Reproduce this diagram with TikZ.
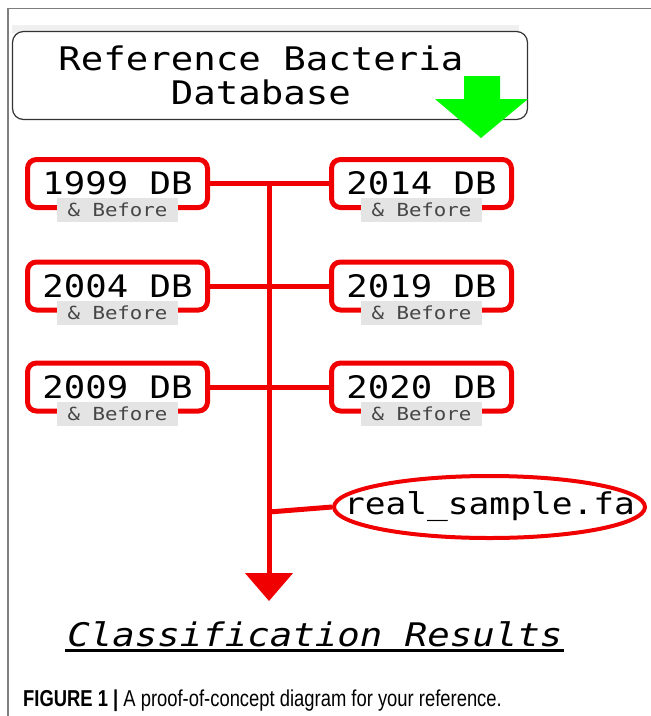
\documentclass[tikz,border=0pt]{standalone}
\usepackage{fontspec}
\newfontfamily\widemono{DejaVu Sans Mono}[FakeStretch=1.15]
\newfontfamily\capfont{Liberation Sans}[FakeStretch=0.80]
\usetikzlibrary{arrows.meta,shapes.geometric}
\definecolor{dbred}{RGB}{240,0,0}
\definecolor{tagbg}{RGB}{228,228,228}
\definecolor{tagtext}{RGB}{70,70,70}
\definecolor{framegray}{RGB}{125,125,125}
\definecolor{newgreen}{RGB}{0,250,0}

\tikzset{
  yearbox/.style={draw=dbred, line width=5pt, rounded corners=9pt,
    minimum width=180pt, minimum height=48pt, inner sep=0pt,
    font=\widemono\fontsize{31}{31}\selectfont},
  beforetag/.style={fill=tagbg, text=tagtext, inner sep=0pt,
    minimum width=121pt, minimum height=24pt,
    font=\widemono\fontsize{18}{18}\selectfont},
  feed/.style={dbred, line width=5pt},
}

\begin{document}
\begin{tikzpicture}[x=1pt, y=-1pt]
        \useasboundingbox (0,0) rectangle (651,716);
        % frame
        \draw[framegray, line width=1.2pt] (8,716) -- (8,8.5) -- (651,8.5);

        % database header
        \fill[black!6] (12,25) rectangle (519,33);
        \node[draw=black!80, line width=1.2pt, rounded corners=11pt, fill=white,
              minimum width=515pt, minimum height=88pt] (dbbox) at (270,75.5) {};
        \node[font=\widemono\fontsize{32.5}{34}\selectfont, align=center] (dbtitle) at (261,75)
              {Reference Bacteria\\Database};
        \fill[newgreen] (464,76) -- (500,76) -- (500,99) -- (528,99) -- (481,138)
              -- (435,99) -- (464,99) -- cycle;

        % yearly databases
        \node[yearbox] (b1999) at (117.5,183.5) {1999 DB};
        \node[yearbox] (b2004) at (117.5,286) {2004 DB};
        \node[yearbox] (b2009) at (117.5,387) {2009 DB};
        \node[yearbox] (b2014) at (421.5,183.5) {2014 DB};
        \node[yearbox] (b2019) at (421.5,286) {2019 DB};
        \node[yearbox] (b2020) at (421.5,387) {2020 DB};
        \foreach \yr in {1999,2004,2009,2014,2019,2020}
          \node[beforetag] (t\yr) at (b\yr.south) {\& Before};

        % query sample
        \node[ellipse, draw=dbred, line width=4pt, minimum width=311pt, minimum height=62pt,
              inner sep=0pt, font=\widemono\fontsize{30}{30}\selectfont] (sample) at (489.5,507)
              {\makebox[0pt]{real\_sample.fa}};

        % connectors
        \draw[feed] (b1999.east) -- (b2014.west);
        \draw[feed] (b2004.east) -- (b2019.west);
        \draw[feed] (b2009.east) -- (b2020.west);
        \coordinate (top) at (269,183.5);
        \coordinate (join) at (269,512);
        \node (results) at (315,634) [font=\widemono\itshape\fontsize{32.5}{32.5}\selectfont]
              {Classification Results};
        \coordinate (tip) at (269,601);
        \draw[feed, -{Triangle[width=47pt, length=28pt]}] (top) -- (tip);
        \draw[feed] (join) -- (sample.west);
        \draw[line width=3pt] (65,650) -- (564,650);

        % caption
        \node[anchor=base west, inner sep=0pt, font=\capfont\fontsize{23}{23}\selectfont] (caption)
              at (23,706) {\textbf{FIGURE 1 |} A proof-of-concept diagram for your reference.};
      \end{tikzpicture}
\end{document}
